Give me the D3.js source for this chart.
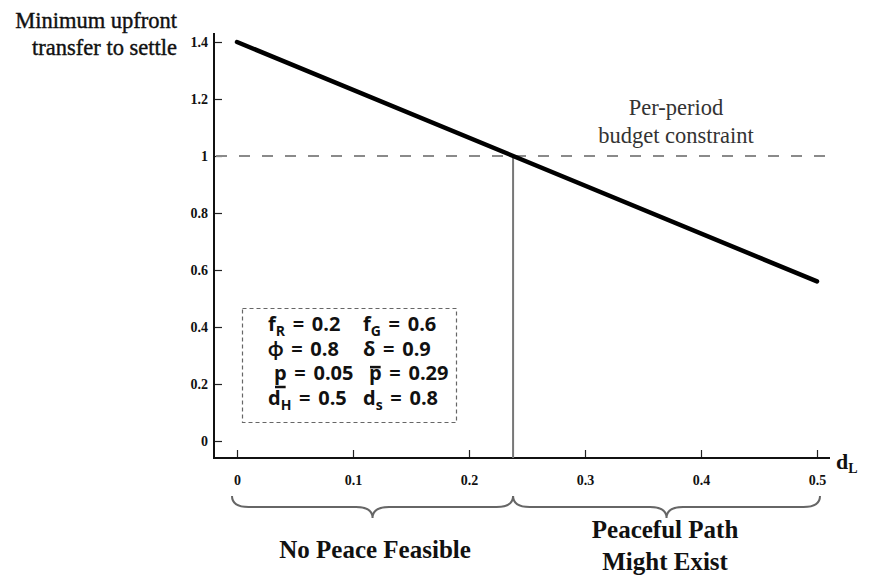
<!DOCTYPE html>
<html>
<head>
<meta charset="utf-8">
<script src="https://cdn.jsdelivr.net/npm/d3@7"></script>
<style>
  body { margin: 0; background: #fff; }
  svg { display: block; }
</style>
</head>
<body>
<div id="chart"></div>
<script>
// values
const dL = [0, 0.5]
const transfer = [1.4, 0.56]
const budget = 1
const threshold = 0.238
const xTicks = [0, 0.1, 0.2, 0.3, 0.4, 0.5]
const yTicks = [0, 0.2, 0.4, 0.6, 0.8, 1, 1.2, 1.4]
const regions = [
  { from: 0, to: threshold, lines: ['No Peace Feasible'] },
  { from: threshold, to: 0.5, lines: ['Peaceful Path', 'Might Exist'] }
]
const params = [
  [[['f'], ['R', 'sub'], [' = 0.2']], [['f'], ['G', 'sub'], [' = 0.6']]],
  [[['\u03d5 = 0.8']], [['\u03b4 = 0.9']]],
  [[['p', 'under'], [' = 0.05']], [['p', 'over'], [' = 0.29']]],
  [[['d'], ['H', 'sub'], [' = 0.5']], [['d'], ['s', 'sub'], [' = 0.8']]]
]

const width = 870
const height = 584
const serif = '"Liberation Serif", "Times New Roman", serif'
const sans = '"Open Sans", Lato, sans-serif'

const svg = d3
  .select('#chart')
  .append('svg')
  .attr('width', width)
  .attr('height', height)

const xScale = d3.scaleLinear().domain([0, 0.5]).range([237, 817])
const yScale = d3.scaleLinear().domain([0, 1.4]).range([441, 42])

const axisX = 214
const axisY = 458

// axes
const yAxis = svg
  .append('g')
  .attr('transform', `translate(${axisX},0)`)
  .call(
    d3.axisLeft(yScale)
      .tickValues(yTicks)
      .tickFormat(d => d3.format('')(+d.toFixed(1)))
      .tickSizeInner(-8)
      .tickSizeOuter(0)
      .tickPadding(6)
  )
yAxis.select('.domain').remove()

const xAxis = svg
  .append('g')
  .attr('transform', `translate(0,${axisY})`)
  .call(
    d3.axisBottom(xScale)
      .tickValues(xTicks)
      .tickFormat(d => d3.format('')(+d.toFixed(1)))
      .tickSizeInner(-8)
      .tickSizeOuter(0)
      .tickPadding(17)
  )
xAxis.select('.domain').remove()

svg.selectAll('.tick line').attr('stroke', '#222').attr('stroke-width', 1.2)
svg
  .selectAll('.tick text')
  .attr('font-family', serif)
  .attr('font-weight', 'bold')
  .attr('font-size', 14)
  .attr('fill', '#111')

svg
  .append('line')
  .attr('x1', axisX).attr('x2', axisX)
  .attr('y1', 33).attr('y2', axisY + 1)
  .attr('stroke', '#111').attr('stroke-width', 2)
svg
  .append('line')
  .attr('x1', axisX - 1).attr('x2', 830)
  .attr('y1', axisY).attr('y2', axisY)
  .attr('stroke', '#111').attr('stroke-width', 2)

// budget line
svg
  .append('line')
  .attr('x1', axisX + 2).attr('x2', 826)
  .attr('y1', yScale(budget)).attr('y2', yScale(budget))
  .attr('stroke', '#8a8a8a').attr('stroke-width', 2)
  .attr('stroke-dasharray', '11,12')

// threshold
svg
  .append('line')
  .attr('x1', xScale(threshold)).attr('x2', xScale(threshold))
  .attr('y1', yScale(budget)).attr('y2', axisY)
  .attr('stroke', '#777').attr('stroke-width', 2)

// main line
const line = d3.line().x(d => xScale(d[0])).y(d => yScale(d[1]))
svg
  .append('path')
  .datum(d3.zip(dL, transfer))
  .attr('d', line)
  .attr('fill', 'none')
  .attr('stroke', '#000')
  .attr('stroke-width', 4.5)
  .attr('stroke-linecap', 'round')

// y title
const yTitle = svg
  .append('text')
  .attr('text-anchor', 'end')
  .attr('font-family', serif)
  .attr('font-size', 22.5)
  .attr('fill', '#111')
  .attr('stroke', '#111')
  .attr('stroke-width', 0.4)
yTitle.append('tspan').attr('x', 177).attr('y', 28).text('Minimum upfront')
yTitle.append('tspan').attr('x', 177).attr('y', 55).text('transfer to settle')

// x label
const xLabel = svg
  .append('text')
  .attr('x', 836)
  .attr('y', 469)
  .attr('font-family', serif)
  .attr('font-size', 22)
  .attr('font-weight', 'bold')
  .attr('fill', '#111')
xLabel.append('tspan').text('d')
xLabel.append('tspan').attr('font-size', 14).attr('dy', 4).text('L')

// budget annotation
const note = svg
  .append('text')
  .attr('text-anchor', 'middle')
  .attr('font-family', serif)
  .attr('font-size', 22.5)
  .attr('fill', '#333')
note.append('tspan').attr('x', 676).attr('y', 115).text('Per-period')
note.append('tspan').attr('x', 676).attr('y', 143).text('budget constraint')

// parameter box
svg
  .append('rect')
  .attr('x', 242.5).attr('y', 308.5)
  .attr('width', 214).attr('height', 114)
  .attr('fill', 'none')
  .attr('stroke', '#666').attr('stroke-width', 1.2)
  .attr('stroke-dasharray', '4,3')

const colX = [268, 363]
params.forEach((row, i) => {
  row.forEach((cell, j) => {
    const t = svg
      .append('text')
      .attr('x', colX[j] + (i === 2 ? 6 : 0))
      .attr('y', 331 + i * 24.5)
      .attr('font-family', sans)
      .attr('font-weight', 'bold')
      .attr('font-size', 20)
      .attr('word-spacing', 2.5)
      .attr('fill', '#111')
    const marks = []
    let idx = 0
    let shifted = false
    cell.forEach(([str, kind]) => {
      const ts = t.append('tspan').text(str)
      if (kind === 'sub') {
        ts.attr('font-size', 14).attr('dy', 5)
        shifted = true
      } else if (shifted) {
        ts.attr('dy', -5)
        shifted = false
      }
      if (kind === 'under' || kind === 'over') marks.push({ idx, kind })
      idx += str.length
    })
    marks.forEach(m => {
      const box = t.node().getExtentOfChar(m.idx)
      const yy = m.kind === 'under' ? box.y + box.height + 1 : box.y + box.height * 0.3
      svg
        .append('line')
        .attr('x1', box.x + 1).attr('x2', box.x + box.width - 1)
        .attr('y1', yy).attr('y2', yy)
        .attr('stroke', '#111').attr('stroke-width', 2.5)
    })
  })
})

// braces under the axis
function bracePath(x1, x2, y, h) {
  const mid = (x1 + x2) / 2
  const r = h / 2
  return `M${x1},${y} Q${x1},${y + r} ${x1 + r * 1.5},${y + r}` +
    ` L${mid - r * 1.5},${y + r} Q${mid},${y + r} ${mid},${y + h}` +
    ` Q${mid},${y + r} ${mid + r * 1.5},${y + r}` +
    ` L${x2 - r * 1.5},${y + r} Q${x2},${y + r} ${x2},${y}`
}

svg
  .selectAll('.brace')
  .data(regions)
  .enter()
  .append('path')
  .attr('class', 'brace')
  .attr('d', d => bracePath(xScale(d.from) - (d.from === 0 ? 5 : 0), xScale(d.to) + (d.to === 0.5 ? 3 : 0), 496, 22))
  .attr('fill', 'none')
  .attr('stroke', '#666')
  .attr('stroke-width', 2)

svg
  .selectAll('.region-label')
  .data(regions)
  .enter()
  .append('text')
  .attr('class', 'region-label')
  .attr('text-anchor', 'middle')
  .attr('font-family', serif)
  .attr('font-weight', 'bold')
  .attr('font-size', 25)
  .attr('fill', '#111')
  .each(function(d) {
    const cx = (xScale(d.from) + xScale(d.to)) / 2
    const top = d.lines.length === 1 ? 558 : 538
    d.lines.forEach((s, i) => {
      d3.select(this).append('tspan').attr('x', cx).attr('y', top + i * 32).text(s)
    })
  })
</script>
</body>
</html>
